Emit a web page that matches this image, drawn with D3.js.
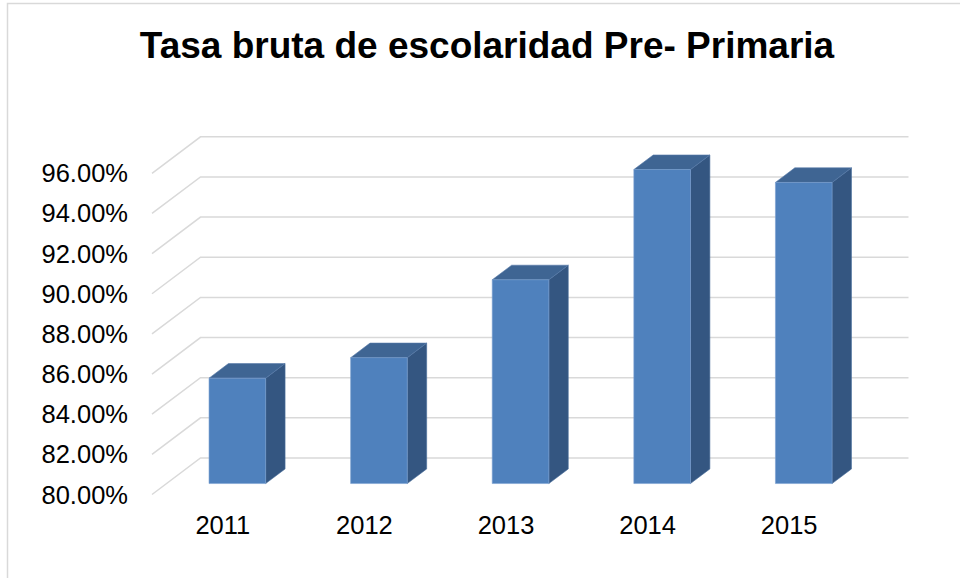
<!DOCTYPE html>
<html lang="es">
<head>
    <meta charset="UTF-8">
    <title>Tasa bruta de escolaridad Pre- Primaria</title>
    <style>
        body {
            margin: 0;
            background-color: #fff;
            font-family: Arial, 'Liberation Sans', sans-serif;
        }

        svg {
            display: block;
        }

        .grid line,
        .grid polyline {
            fill: none;
            stroke: #d9d9d9;
            stroke-width: 1.5;
        }

        .label {
            fill: #000;
            font-size: 25.5px;
        }
    </style>
    <script src="https://d3js.org/d3.v7.min.js"></script>
</head>
<body>
    <svg id="chart" width="960" height="578"></svg>

    <script>
        // data
        const years = ["2011", "2012", "2013", "2014", "2015"];
        const rates = [0.8525, 0.8627, 0.9015, 0.9564, 0.9500];
        const yTicks = [0.80, 0.82, 0.84, 0.86, 0.88, 0.90, 0.92, 0.94, 0.96];

        const svg = d3.select("#chart");

        // outer frame (bottom/right edges fall outside the picture)
        svg.append("rect")
            .attr("x", 7.5).attr("y", 3.5)
            .attr("width", 960).attr("height", 590)
            .attr("fill", "none")
            .attr("stroke", "#d9d9d9")
            .attr("stroke-width", 1.5);

        // title
        svg.append("text")
            .attr("x", 487)
            .attr("y", 58)
            .attr("text-anchor", "middle")
            .style("font-size", "37px")
            .style("font-weight", "bold")
            .text("Tasa bruta de escolaridad Pre- Primaria");

        // front plane scales + oblique depth offset
        const xScale = d3.scaleBand().domain(years).range([152, 860]);
        const yScale = d3.scaleLinear().domain([0.80, 0.96]).range([494.5, 173.3]);
        const depthX = 48.5, depthY = -36.5;
        const proj = (x, v, z) => [x + z * depthX, yScale(v) + z * depthY];

        // gridlines: side wall diagonal + back wall
        const xEnd = xScale.range()[1];
        svg.append("g").attr("class", "grid")
            .selectAll("polyline")
            .data(yTicks)
            .join("polyline")
            .attr("points", d => [proj(xScale.range()[0], d, 0), proj(xScale.range()[0], d, 1), proj(xEnd, d, 1)].join(" "));

        // y labels
        svg.append("g")
            .selectAll("text")
            .data(yTicks)
            .join("text")
            .attr("class", "label")
            .attr("x", 128)
            .attr("y", d => yScale(d) + 9)
            .attr("text-anchor", "end")
            .text(d3.format(".2%"));

        // x labels
        svg.append("g")
            .selectAll("text")
            .data(years)
            .join("text")
            .attr("class", "label")
            .attr("x", d => xScale(d) + xScale.bandwidth() / 2)
            .attr("y", 534)
            .attr("text-anchor", "middle")
            .text(d => d);

        // 3d columns
        const zf = 0.3, zb = 0.7, base = yScale.domain()[0];
        const bw = xScale.bandwidth() * 0.4;
        const bars = svg.append("g")
            .selectAll("g")
            .data(years.map((y, i) => ({ year: y, value: rates[i] })))
            .join("g");

        const x0 = d => xScale(d.year) + (xScale.bandwidth() - bw) / 2;
        const x1 = d => x0(d) + bw;

        bars.append("polygon")
            .attr("fill", "#345681")
            .attr("stroke", "#4a6f9c")
            .attr("stroke-width", 0.6)
            .attr("points", d => [proj(x1(d), d.value, zf), proj(x1(d), d.value, zb), proj(x1(d), base, zb), proj(x1(d), base, zf)].join(" "));

        bars.append("polygon")
            .attr("fill", "#3f6593")
            .attr("stroke", "#5579a8")
            .attr("stroke-width", 0.6)
            .attr("points", d => [proj(x0(d), d.value, zf), proj(x1(d), d.value, zf), proj(x1(d), d.value, zb), proj(x0(d), d.value, zb)].join(" "));

        bars.append("polygon")
            .attr("fill", "#4f81bd")
            .attr("stroke", "#7a9fd0")
            .attr("stroke-width", 0.6)
            .attr("points", d => [proj(x0(d), d.value, zf), proj(x1(d), d.value, zf), proj(x1(d), base, zf), proj(x0(d), base, zf)].join(" "));
    </script>
</body>
</html>
